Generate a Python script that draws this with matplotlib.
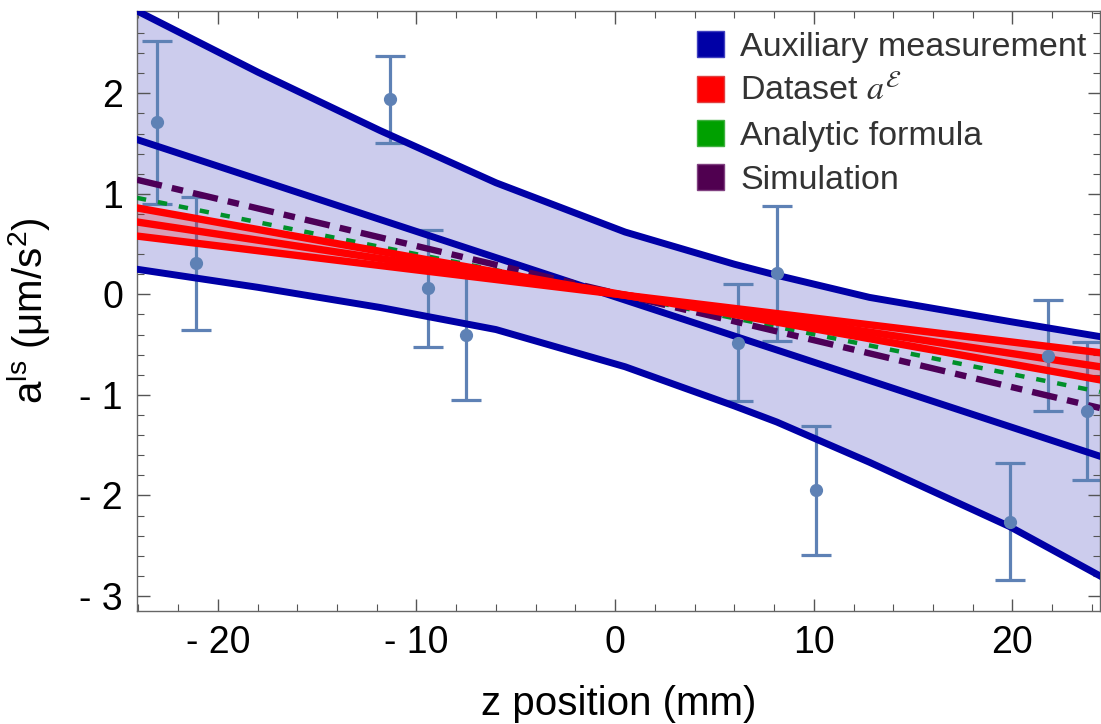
import numpy as np
import matplotlib
matplotlib.use("Agg")
import matplotlib.pyplot as plt
from matplotlib.patches import Patch
from matplotlib.ticker import MultipleLocator, FuncFormatter
from matplotlib.font_manager import FontProperties

plt.rcParams['font.family'] = ['Liberation Sans', 'DejaVu Sans']
plt.rcParams['mathtext.fontset'] = 'custom'
plt.rcParams['mathtext.rm'] = 'Liberation Sans'
plt.rcParams['mathtext.it'] = 'Liberation Sans:italic'

# measured points (z in mm, a in um/s^2)
z_pts = [-23.06, -21.1, -11.34, -9.43, -7.5, 6.18, 8.14, 10.1, 19.86, 21.78, 23.74]
a_pts = [1.71, 0.31, 1.94, 0.06, -0.40, -0.48, 0.21, -1.95, -2.26, -0.61, -1.16]
a_err = [0.81, 0.66, 0.43, 0.58, 0.65, 0.58, 0.67, 0.64, 0.58, 0.55, 0.69]

z_band = [-24.07, -17.98, -11.84, -6.0, 0.5, 6.0, 8.14, 12.8, 19.86, 24.4]
band_hi = [2.82, 2.21, 1.63, 1.11, 0.62, 0.30, 0.19, -0.03, -0.27, -0.42]
band_lo = [0.25, 0.07, -0.13, -0.35, -0.72, -1.11, -1.27, -1.67, -2.31, -2.80]
z_ends = [-24.07, 24.4]
aux_mid = [1.54, -1.61]

# dataset a^E (three lines), analytic formula, simulation
red_hi = [0.86, -0.85]
red_mid = [0.72, -0.72]
red_lo = [0.58, -0.58]
analytic = [0.96, -0.97]
simulation = [1.14, -1.13]

blue = '#0000A6'
red = '#FF0000'
green = '#00902A'
purple = '#4D0058'
pt_col = '#5E81B5'

fig = plt.figure(figsize=(11.01, 7.24), dpi=100)
ax = fig.add_axes([0.1244, 0.156, 0.8746, 0.829])

ax.fill_between(z_band, band_lo, band_hi, color=blue, alpha=0.2, lw=0, zorder=1)
ax.errorbar(z_pts, a_pts, yerr=a_err, fmt='none', ecolor=pt_col, elinewidth=2.3,
            capsize=11, capthick=2.3, zorder=2)
ax.plot(z_band, band_hi, color=blue, lw=5, zorder=3)
ax.plot(z_band, band_lo, color=blue, lw=5, zorder=3)
ax.plot(z_ends, aux_mid, color=blue, lw=5, zorder=3)
ax.plot(z_ends, analytic, color=green, lw=3.2, dashes=(2.1, 2.7), zorder=4)
ax.plot(z_ends, simulation, color=purple, lw=4.6, dashes=(4.0, 1.6, 1.8, 1.6), zorder=5)
ax.fill_between(z_ends, red_lo, red_hi, color=red, alpha=0.22, lw=0, zorder=5.5)
for r in (red_hi, red_mid, red_lo):
    ax.plot(z_ends, r, color=red, lw=5.3, zorder=6)
ax.plot(z_pts, a_pts, 'o', color=pt_col, ms=8.5, zorder=7)

ax.set_xlim(-24.07, 24.4)
ax.set_ylim(-3.15, 2.82)

ax.xaxis.set_major_locator(MultipleLocator(10))
ax.xaxis.set_minor_locator(MultipleLocator(2))
ax.yaxis.set_major_locator(MultipleLocator(1))
ax.yaxis.set_minor_locator(MultipleLocator(0.2))
fmt = FuncFormatter(lambda v, p: f"- {abs(round(v))}" if round(v) < 0 else f"{round(v)}")
ax.xaxis.set_major_formatter(fmt)
ax.yaxis.set_major_formatter(fmt)
ax.tick_params(which='both', direction='in', top=True, right=True, color='#555555')
ax.tick_params(which='major', length=9, width=1, labelsize=27, pad=10)
ax.tick_params(which='minor', length=5, width=0.8)
for s in ax.spines.values():
    s.set_color('#666666')
    s.set_linewidth(1)

ax.set_xlabel('z position (mm)', fontsize=29, labelpad=17)
ax.set_ylabel(r'a$^{\mathrm{ls}}$ (μm/s$^{\mathrm{2}}$)', fontsize=29, labelpad=19)

handles = [Patch(facecolor=blue, edgecolor='#4040C0', label='Auxiliary measurement'),
           Patch(facecolor=red, edgecolor='#E04040', label=r'Dataset $a^{\mathcal{E}}$'),
           Patch(facecolor='#00A000', edgecolor='#40B040', label='Analytic formula'),
           Patch(facecolor='#500050', edgecolor='#804080', label='Simulation')]
lp = FontProperties(family='Liberation Sans', size=24.5, math_fontfamily='stix')
leg = ax.legend(handles=handles, loc='upper left', bbox_to_anchor=(0.5815, 0.966),
                frameon=False, prop=lp, handlelength=0.8, handleheight=0.8,
                handletextpad=0.47, labelspacing=0.36, borderpad=0, borderaxespad=0)
for t in leg.get_texts():
    t.set_color('#333333')

fig.savefig('out.png', dpi=100)
